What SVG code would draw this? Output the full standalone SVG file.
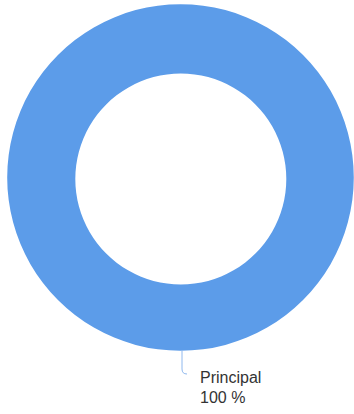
<svg xmlns="http://www.w3.org/2000/svg" width="354" height="414" viewBox="0 0 354 414">
<style>
.lbl{font-family:"Liberation Sans",Arial,sans-serif;font-size:16px;fill:#333}
</style>
<rect width="354" height="414" fill="#fff"/>
<g id="slice-principal">
<path d="M180.5 4.2 A173.3 173.3 0 1 1 180.49 4.2 Z M180.8 73.5 A105.5 105.5 0 1 0 180.81 73.5 Z" fill="#5c9ce9" fill-rule="evenodd"/>
</g>
<g id="connectors">
<path d="M182 350 L182 369 Q182 374 187 374" fill="none" stroke="#8fb8ee" stroke-width="1"/>
</g>
<g id="label-principal">
<text class="lbl" x="200" y="383">Principal</text>
<text class="lbl" x="200" y="403">100 %</text>
</g>
</svg>
